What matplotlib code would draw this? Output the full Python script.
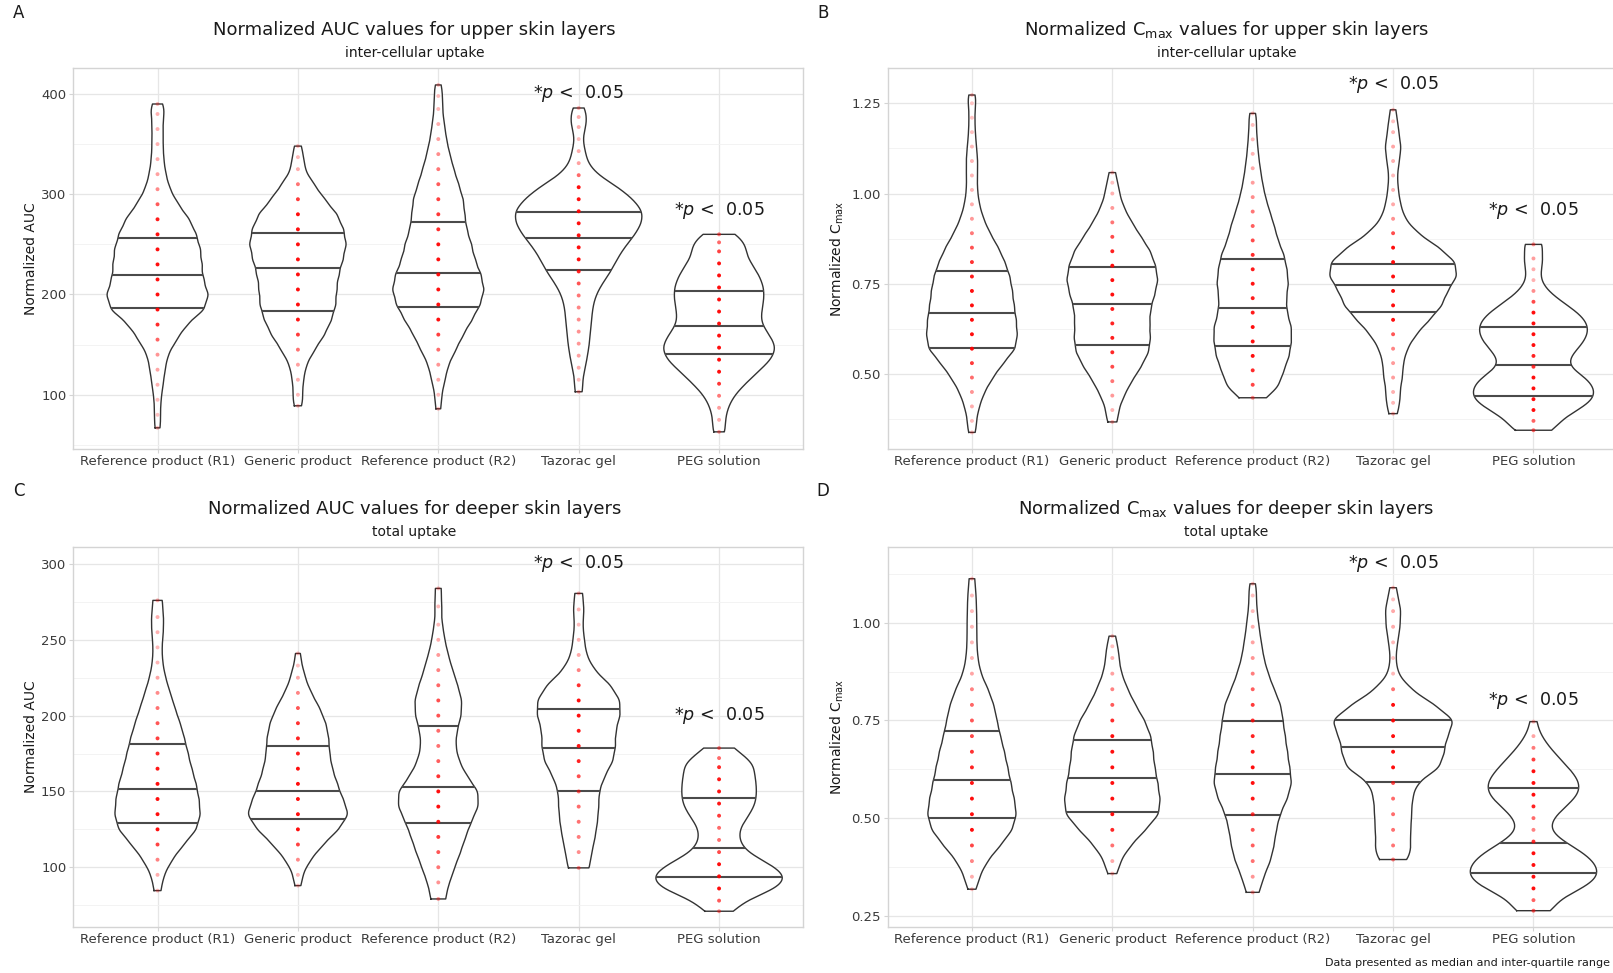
import numpy as np
import matplotlib
matplotlib.use("Agg")
import matplotlib.pyplot as plt

plt.rcParams['font.family'] = ['DejaVu Sans']
plt.rcParams['mathtext.fontset'] = 'dejavusans'

categories = ["Reference product (R1)", "Generic product", "Reference product (R2)",
              "Tazorac gel", "PEG solution"]

# ---------------- Panel A: normalized AUC, upper skin layers ----------------
a_levels = [
    [67, 80, 95, 110, 125, 140, 155, 170, 185, 200, 215, 230, 245, 260, 275, 290, 305, 320, 335, 350, 365, 380, 390],
    [89, 100, 115, 130, 145, 160, 175, 190, 205, 220, 235, 250, 265, 280, 295, 310, 325, 337, 348],
    [86, 100, 115, 130, 145, 160, 175, 190, 205, 220, 235, 250, 265, 280, 295, 310, 325, 340, 355, 370, 385, 398, 409],
    [103, 115, 127, 139, 151, 163, 175, 187, 199, 211, 223, 235, 247, 259, 271, 283, 295, 307, 319, 331, 343, 355, 367, 377, 386],
    [63, 75, 87, 99, 111, 123, 135, 147, 159, 171, 183, 195, 207, 219, 231, 243, 252, 260],
]
a_freq = [
    [1.8, 2, 2.5, 4, 5.5, 7.5, 14, 21, 34, 37, 33, 32, 31, 28, 23, 15, 9, 6, 4.5, 4, 4, 4, 3],
    [2.2, 3, 4, 6, 12, 19, 24, 27, 27.5, 29, 32, 34.5, 32.5, 28, 19, 11.5, 4.5, 3, 2],
    [1.8, 2.5, 5, 7.5, 13, 18.5, 25, 31, 34, 31.5, 27, 24.5, 21, 19.5, 18.5, 15, 11.5, 8.5, 6, 4.5, 3, 2.5, 1.8],
    [3, 2.5, 4.5, 6, 7.3, 8, 8.8, 9.5, 11.5, 16, 22, 26, 31, 38, 43, 44, 37, 27, 13, 6, 4.5, 2.5, 4.5, 4.5, 3.5],
    [5, 4.5, 6.5, 11, 19.5, 29, 39, 43, 38, 31, 31.5, 33.5, 33.5, 30, 24, 18, 13, 10],
]
a_q1 = [186.3, 183.6, 187.9, 224.1, 141.1]
a_median = [219.1, 226.8, 221.8, 256.0, 168.7]
a_q3 = [256.6, 261.6, 272.2, 282.2, 203.5]

# ---------------- Panel B: normalized Cmax, upper skin layers ----------------
b_levels = [
    [0.338, 0.37, 0.41, 0.45, 0.49, 0.53, 0.57, 0.61, 0.65, 0.69, 0.73, 0.77, 0.81, 0.85, 0.89, 0.93, 0.97, 1.01, 1.05, 1.09, 1.13, 1.17, 1.21, 1.25, 1.273],
    [0.367, 0.40, 0.44, 0.48, 0.52, 0.56, 0.60, 0.64, 0.68, 0.72, 0.76, 0.80, 0.84, 0.88, 0.92, 0.96, 1.00, 1.03, 1.058],
    [0.434, 0.47, 0.51, 0.55, 0.59, 0.63, 0.67, 0.71, 0.75, 0.79, 0.83, 0.87, 0.91, 0.95, 0.99, 1.03, 1.07, 1.11, 1.15, 1.19, 1.222],
    [0.39, 0.42, 0.45, 0.49, 0.53, 0.57, 0.61, 0.65, 0.69, 0.73, 0.77, 0.81, 0.85, 0.89, 0.93, 0.97, 1.01, 1.05, 1.09, 1.13, 1.17, 1.20, 1.232],
    [0.344, 0.37, 0.40, 0.43, 0.46, 0.49, 0.52, 0.55, 0.58, 0.61, 0.64, 0.67, 0.70, 0.73, 0.76, 0.79, 0.82, 0.859],
]
b_freq = [
    [1.8, 2.5, 4.5, 7.6, 12.7, 19, 26.5, 27.5, 26.8, 25.5, 24.5, 23, 20, 16, 11, 7, 4.5, 3.3, 3.3, 3.5, 2.8, 2, 1.8, 1.8, 1.5],
    [2.5, 3.5, 7, 11.5, 17, 21.5, 22.5, 22, 22.5, 25, 27, 25.5, 22.5, 17, 11.5, 7, 4, 2, 1.6],
    [8, 17.5, 21, 24.5, 26, 26, 23, 22.5, 24, 23, 21, 17, 14.5, 11.5, 8.5, 6.5, 5, 3.8, 3, 2.3, 1.8],
    [2.5, 3.2, 4.2, 6.4, 6.8, 9.5, 15.5, 24.5, 33, 36.5, 43, 42, 31, 16.5, 8, 5, 3.5, 2.8, 4.2, 5.5, 3.5, 2, 1.8],
    [12, 14, 27, 37, 37, 32, 20, 22, 29, 33, 33, 27, 17, 8.5, 4, 4.5, 6.5, 7.5],
]
b_q1 = [0.573, 0.580, 0.578, 0.672, 0.438]
b_median = [0.668, 0.695, 0.682, 0.746, 0.526]
b_q3 = [0.786, 0.797, 0.818, 0.806, 0.631]

# ---------------- Panel C: normalized AUC, deeper skin layers ----------------
c_levels = [
    [84.6, 95, 105, 115, 125, 135, 145, 155, 165, 175, 185, 195, 205, 215, 225, 235, 245, 255, 265, 276],
    [87.9, 95, 105, 115, 125, 135, 145, 155, 165, 175, 185, 195, 205, 215, 225, 233, 241],
    [79.1, 90, 100, 110, 120, 130, 140, 150, 160, 170, 180, 190, 200, 210, 220, 230, 240, 250, 260, 272, 283.9],
    [99.6, 110, 120, 130, 140, 150, 160, 170, 180, 190, 200, 210, 220, 230, 240, 250, 260, 270, 280.6],
    [71, 78, 86, 94, 102, 110, 118, 126, 134, 142, 150, 158, 166, 172, 178.6],
]
c_freq = [
    [2.5, 4.5, 10, 18, 27, 29.5, 28.5, 26.5, 23.5, 21, 18.5, 15.5, 12, 8.8, 5.5, 3.5, 3, 4, 4.3, 3.8],
    [1.5, 3, 9, 18, 29, 36.5, 32, 28, 24.5, 22.5, 22, 20, 15.5, 9.5, 5, 2, 1.6],
    [6, 7.8, 11.5, 15.5, 19, 23, 28, 28, 20, 14.5, 12, 13, 16, 16.5, 13.5, 10, 7, 4.5, 3, 2.8, 2.5],
    [7.5, 8.5, 10.5, 12, 12.8, 13, 16.5, 22, 23.5, 23.5, 26.5, 26.5, 20.5, 10, 5, 3.6, 2.6, 3.5, 2.8],
    [8, 15, 38, 44, 33, 17, 12.5, 13, 19, 23.5, 24, 23.5, 21, 13, 9],
]
c_q1 = [129.1, 131.5, 129.3, 150.0, 93.4]
c_median = [151.5, 150.4, 152.9, 178.6, 112.8]
c_q3 = [181.1, 180.0, 193.0, 204.2, 145.8]

# ---------------- Panel D: normalized Cmax, deeper skin layers ----------------
d_levels = [
    [0.318, 0.35, 0.39, 0.43, 0.47, 0.51, 0.55, 0.59, 0.63, 0.67, 0.71, 0.75, 0.79, 0.83, 0.87, 0.91, 0.95, 0.99, 1.03, 1.07, 1.113],
    [0.358, 0.39, 0.43, 0.47, 0.51, 0.55, 0.59, 0.63, 0.67, 0.71, 0.75, 0.79, 0.83, 0.87, 0.91, 0.94, 0.966],
    [0.31, 0.35, 0.39, 0.43, 0.47, 0.51, 0.55, 0.59, 0.63, 0.67, 0.71, 0.75, 0.79, 0.83, 0.87, 0.91, 0.95, 0.99, 1.03, 1.07, 1.10],
    [0.394, 0.43, 0.47, 0.51, 0.55, 0.59, 0.63, 0.67, 0.71, 0.75, 0.79, 0.83, 0.87, 0.91, 0.95, 0.99, 1.03, 1.06, 1.09],
    [0.263, 0.29, 0.32, 0.35, 0.38, 0.41, 0.44, 0.47, 0.50, 0.53, 0.56, 0.59, 0.62, 0.65, 0.68, 0.71, 0.747],
]
d_freq = [
    [1.8, 4.5, 9.5, 17.5, 25, 27.5, 26, 24, 22, 20, 17.5, 15.5, 13.5, 10, 5.5, 3.6, 3, 3, 2.9, 2.6, 2],
    [2.2, 5, 12, 21.5, 30.5, 31, 29.5, 27.5, 26.5, 25, 21, 15, 10, 6, 4, 2.3, 1.6],
    [4.5, 7.5, 12, 14.5, 16, 18.5, 23.5, 26.5, 25, 23.5, 22, 20.5, 19, 14.5, 10.5, 7.5, 5.8, 4.3, 3, 2.3, 1.6],
    [9.5, 11.5, 12, 12.5, 13, 16, 32, 34.5, 36.5, 42, 28, 12, 3.2, 1.8, 3, 4.8, 5, 2.3, 2],
    [13, 14, 34, 45, 43, 35, 20, 10, 13, 22, 31, 32, 26, 18.5, 11, 5.5, 3],
]
d_q1 = [0.500, 0.516, 0.508, 0.593, 0.360]
d_median = [0.597, 0.602, 0.613, 0.683, 0.437]
d_q3 = [0.724, 0.701, 0.749, 0.751, 0.576]

# ---------------- axis / text settings ----------------
auc_upper_ticks = [100, 200, 300, 400]
auc_upper_ticklabels = ["100", "200", "300", "400"]
cmax_upper_ticks = [0.50, 0.75, 1.00, 1.25]
cmax_upper_ticklabels = ["0.50", "0.75", "1.00", "1.25"]
auc_deeper_ticks = [100, 150, 200, 250, 300]
auc_deeper_ticklabels = ["100", "150", "200", "250", "300"]
cmax_deeper_ticks = [0.25, 0.50, 0.75, 1.00]
cmax_deeper_ticklabels = ["0.25", "0.50", "0.75", "1.00"]

sig_label = r"*$p$ <  0.05"
sig_groups = [3, 4]          # Tazorac gel, PEG solution
a_sig_y = [400, 284]
b_sig_y = [1.303, 0.952]
c_sig_y = [300, 200]
d_sig_y = [1.152, 0.802]

panels = [
    dict(letter="A", title="Normalized AUC values for upper skin layers", sub="inter-cellular uptake",
         ylabel="Normalized AUC", levels=a_levels, freq=a_freq, q1=a_q1, med=a_median, q3=a_q3,
         bw=8.0, ylim=(45.9, 425.6), ticks=auc_upper_ticks, ticklabels=auc_upper_ticklabels,
         minor=[50, 150, 250, 350], sig=a_sig_y, col=0, row=0),
    dict(letter="B", title=r"Normalized C$_{\mathrm{max}}$ values for upper skin layers", sub="inter-cellular uptake",
         ylabel=r"Normalized C$_{\mathrm{max}}$", levels=b_levels, freq=b_freq, q1=b_q1, med=b_median, q3=b_q3,
         bw=0.022, ylim=(0.292, 1.347), ticks=cmax_upper_ticks, ticklabels=cmax_upper_ticklabels,
         minor=[0.375, 0.625, 0.875, 1.125], sig=b_sig_y, col=1, row=0),
    dict(letter="C", title="Normalized AUC values for deeper skin layers", sub="total uptake",
         ylabel="Normalized AUC", levels=c_levels, freq=c_freq, q1=c_q1, med=c_median, q3=c_q3,
         bw=5.5, ylim=(60.8, 311.4), ticks=auc_deeper_ticks, ticklabels=auc_deeper_ticklabels,
         minor=[75, 125, 175, 225, 275], sig=c_sig_y, col=0, row=1),
    dict(letter="D", title=r"Normalized C$_{\mathrm{max}}$ values for deeper skin layers", sub="total uptake",
         ylabel=r"Normalized C$_{\mathrm{max}}$", levels=d_levels, freq=d_freq, q1=d_q1, med=d_median, q3=d_q3,
         bw=0.022, ylim=(0.222, 1.195), ticks=cmax_deeper_ticks, ticklabels=cmax_deeper_ticklabels,
         minor=[0.375, 0.625, 0.875, 1.125], sig=d_sig_y, col=1, row=1),
]

W, H = 1613.0, 973.0
fig = plt.figure(figsize=(W / 100, H / 100), dpi=100)

col_left = [73.3, 887.7]
col_title_x = [414.5, 1226.5]
col_ylabel_x = [30.6, 837.5]
col_letter_x = [19.0, 823.0]
row_top = [68.3, 546.7]
row_bottom = [449.0, 926.7]
row_title_base = [35.0, 513.5]
row_sub_base = [57.0, 535.8]
row_letter_y = [13.3, 491.0]
ax_w = 730.0

BORDER = "#d4d4d4"
GRID = "#e6e6e6"
MINOR = "#f1f1f1"
TEXT = "#1a1a1a"
TICKTXT = "#3a3a3a"


def kde(levels, freq, bw, y):
    lv = np.asarray(levels, float)
    w = np.asarray(freq, float)
    w = w / w.sum()
    z = (np.asarray(y, float)[:, None] - lv[None, :]) / bw
    return (w[None, :] * np.exp(-0.5 * z ** 2)).sum(axis=1) / (bw * np.sqrt(2 * np.pi))


for p in panels:
    c, r = p["col"], p["row"]
    left = col_left[c] / W
    bottom = 1 - row_bottom[r] / H
    height = (row_bottom[r] - row_top[r]) / H
    ax = fig.add_axes([left, bottom, ax_w / W, height])

    positions = np.arange(1, len(categories) + 1)
    # density curves (trimmed to data range), area-scaled like ggplot
    curves = []
    for lv, fr in zip(p["levels"], p["freq"]):
        y = np.linspace(min(lv), max(lv), 500)
        curves.append((y, kde(lv, fr, p["bw"], y)))
    scale = 0.45 / max(d.max() for _, d in curves)

    for i, (pos, (y, d)) in enumerate(zip(positions, curves)):
        hw = d * scale
        xs = np.concatenate([pos - hw, (pos + hw)[::-1], [pos - hw[0]]])
        ys = np.concatenate([y, y[::-1], [y[0]]])
        ax.fill(xs, ys, facecolor="white", edgecolor="none", zorder=2)
        ax.plot(xs, ys, color="#333333", lw=1.0, zorder=3, solid_joinstyle="round")
        for q in (p["q1"][i], p["med"][i], p["q3"][i]):
            qh = kde(p["levels"][i], p["freq"][i], p["bw"], [q])[0] * scale
            ax.plot([pos - qh, pos + qh], [q, q], color="#4a4a4a", lw=1.5, zorder=3,
                    solid_capstyle="butt")
        fr = np.asarray(p["freq"][i], float)
        alphas = np.clip(0.18 + fr / 32.0, 0, 0.95)
        cols = np.zeros((len(fr), 4))
        cols[:, 0] = 1.0
        cols[:, 3] = alphas
        ax.scatter(np.full(len(fr), pos), p["levels"][i], s=8, c=cols, linewidths=0, zorder=4)

    for g, yv in zip(sig_groups, p["sig"]):
        ax.text(positions[g], yv, sig_label, ha="center", va="center", fontsize=12.6,
                color=TEXT, zorder=5)

    ax.set_xlim(0.4, 5.6)
    ax.set_ylim(*p["ylim"])
    ax.set_xticks(positions)
    ax.set_xticklabels(categories)
    ax.set_yticks(p["ticks"])
    ax.set_yticklabels(p["ticklabels"])
    ax.set_yticks(p["minor"], minor=True)
    ax.set_axisbelow(True)
    ax.grid(which="major", color=GRID, lw=0.9)
    ax.grid(which="minor", axis="y", color=MINOR, lw=0.6)
    for sp in ax.spines.values():
        sp.set_color(BORDER)
        sp.set_linewidth(1.0)
    ax.tick_params(which="major", length=3, width=0.8, color=BORDER, labelsize=9.5,
                   labelcolor=TICKTXT)
    ax.tick_params(axis="x", which="major", pad=1.5)
    ax.tick_params(axis="y", which="major", pad=2)
    ax.tick_params(which="minor", length=0)

    fig.text(col_title_x[c] / W, 1 - row_title_base[r] / H, p["title"], ha="center",
             va="baseline", fontsize=13, color=TEXT)
    fig.text(col_title_x[c] / W, 1 - row_sub_base[r] / H, p["sub"], ha="center",
             va="baseline", fontsize=10, color=TEXT)
    fig.text(col_ylabel_x[c] / W, 1 - (row_top[r] + row_bottom[r]) / 2 / H, p["ylabel"],
             rotation=90, ha="center", va="center", fontsize=10, color=TEXT)
    fig.text(col_letter_x[c] / W, 1 - row_letter_y[r] / H, p["letter"], ha="center",
             va="center", fontsize=12, color=TEXT)

fig.text(1610 / W, 1 - 963 / H, "Data presented as median and inter-quartile range",
         ha="right", va="center", fontsize=8, color=TEXT)

fig.savefig("out.png", dpi=100, facecolor="white")
